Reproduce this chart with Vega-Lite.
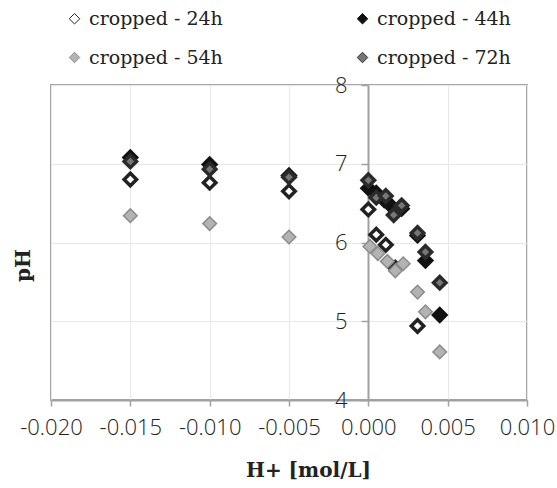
{
  "$schema": "https://vega.github.io/schema/vega-lite/v6.json",
  "autosize": {"type": "none"},
  "padding": {"left": 51, "top": 85, "right": 30, "bottom": 88},
  "width": 476,
  "height": 315,
  "background": "white",
  "config": {
    "view": {"stroke": "#a6a6a6", "strokeWidth": 2},
    "axis": {
      "gridColor": "#e8e8e8",
      "gridWidth": 1,
      "domainColor": "#a0a0a0",
      "domainWidth": 2,
      "tickColor": "#a0a0a0",
      "tickWidth": 1.5,
      "labelFont": "Open Sans",
      "labelFontWeight": 300,
      "labelFontSize": 22,
      "labelColor": "#222222",
      "titleFont": "DejaVu Serif",
      "titleFontWeight": "bold",
      "titleFontSize": 20,
      "titleColor": "#222222"
    }
  },
  "data": {
    "values": [
      {"series": "cropped - 24h", "h": -0.015, "ph": 6.80},
      {"series": "cropped - 24h", "h": -0.010, "ph": 6.76},
      {"series": "cropped - 24h", "h": -0.005, "ph": 6.65},
      {"series": "cropped - 24h", "h": 0.0000, "ph": 6.42},
      {"series": "cropped - 24h", "h": 0.0005, "ph": 6.10},
      {"series": "cropped - 24h", "h": 0.0011, "ph": 5.97},
      {"series": "cropped - 24h", "h": 0.0017, "ph": 5.68},
      {"series": "cropped - 24h", "h": 0.0031, "ph": 4.94},
      {"series": "cropped - 44h", "h": -0.015, "ph": 7.08},
      {"series": "cropped - 44h", "h": -0.010, "ph": 6.99},
      {"series": "cropped - 44h", "h": -0.005, "ph": 6.85},
      {"series": "cropped - 44h", "h": 0.0000, "ph": 6.69},
      {"series": "cropped - 44h", "h": 0.0005, "ph": 6.63},
      {"series": "cropped - 44h", "h": 0.0010, "ph": 6.54},
      {"series": "cropped - 44h", "h": 0.0015, "ph": 6.45},
      {"series": "cropped - 44h", "h": 0.0021, "ph": 6.43},
      {"series": "cropped - 44h", "h": 0.0031, "ph": 6.09},
      {"series": "cropped - 44h", "h": 0.0036, "ph": 5.77},
      {"series": "cropped - 44h", "h": 0.0045, "ph": 5.08},
      {"series": "cropped - 54h", "h": -0.015, "ph": 6.34},
      {"series": "cropped - 54h", "h": -0.010, "ph": 6.24},
      {"series": "cropped - 54h", "h": -0.005, "ph": 6.07},
      {"series": "cropped - 54h", "h": 0.0001, "ph": 5.95},
      {"series": "cropped - 54h", "h": 0.0006, "ph": 5.86},
      {"series": "cropped - 54h", "h": 0.0012, "ph": 5.76},
      {"series": "cropped - 54h", "h": 0.0017, "ph": 5.64},
      {"series": "cropped - 54h", "h": 0.0022, "ph": 5.73},
      {"series": "cropped - 54h", "h": 0.0031, "ph": 5.37},
      {"series": "cropped - 54h", "h": 0.0036, "ph": 5.12},
      {"series": "cropped - 54h", "h": 0.0045, "ph": 4.61},
      {"series": "cropped - 72h", "h": -0.015, "ph": 7.03},
      {"series": "cropped - 72h", "h": -0.010, "ph": 6.93},
      {"series": "cropped - 72h", "h": -0.005, "ph": 6.83},
      {"series": "cropped - 72h", "h": 0.0000, "ph": 6.79},
      {"series": "cropped - 72h", "h": 0.0005, "ph": 6.57},
      {"series": "cropped - 72h", "h": 0.0011, "ph": 6.59},
      {"series": "cropped - 72h", "h": 0.0016, "ph": 6.35},
      {"series": "cropped - 72h", "h": 0.0021, "ph": 6.47},
      {"series": "cropped - 72h", "h": 0.0031, "ph": 6.12},
      {"series": "cropped - 72h", "h": 0.0036, "ph": 5.88},
      {"series": "cropped - 72h", "h": 0.0045, "ph": 5.49}
    ]
  },
  "encoding": {
    "x": {
      "field": "h",
      "type": "quantitative",
      "scale": {"domain": [-0.02, 0.01], "nice": false, "zero": false},
      "axis": {
        "title": "H+ [mol/L]",
        "values": [-0.02, -0.015, -0.01, -0.005, 0, 0.005, 0.01],
        "labelExpr": "replace(format(datum.value, '.3f'), '\u2212', '-')",
        "labelFlush": false,
        "tickSize": 6,
        "labelPadding": 11,
        "titleX": 257,
        "titleY": 70,
        "titleBaseline": "middle",
        "titleAlign": "center",
        "titleAnchor": null
      }
    },
    "y": {
      "field": "ph",
      "type": "quantitative",
      "scale": {"domain": [4, 8], "nice": false, "zero": false},
      "axis": {
        "title": "pH",
        "values": [4, 5, 6, 7, 8],
        "offset": -317,
        "tickSize": 7,
        "labelPadding": 14,
        "titleX": -345,
        "titleY": 180,
        "titleAngle": -90,
        "titleBaseline": "middle",
        "titleAlign": "center",
        "titleAnchor": null
      }
    },
    "fill": {
      "field": "series",
      "type": "nominal",
      "scale": {
        "domain": ["cropped - 24h", "cropped - 54h", "cropped - 44h", "cropped - 72h"],
        "range": ["#ffffff", "#b3b3b3", "#111111", "#777777"]
      },
      "legend": {
        "title": null,
        "orient": "none",
        "legendX": 14,
        "legendY": -76,
        "columns": 2,
        "columnPadding": 130,
        "rowPadding": 19,
        "symbolType": "diamond",
        "symbolSize": 110,
        "symbolStrokeWidth": 1,
        "labelFont": "DejaVu Serif",
        "labelFontSize": 19,
        "labelColor": "#222222",
        "labelOffset": 5,
        "labelLimit": 300
      }
    },
    "stroke": {
      "field": "series",
      "type": "nominal",
      "scale": {
        "domain": ["cropped - 24h", "cropped - 54h", "cropped - 44h", "cropped - 72h"],
        "range": ["#222222", "#8c8c8c", "#111111", "#2a2a2a"]
      }
    }
  },
  "layer": [
    {
      "transform": [{"filter": "datum.series == 'cropped - 24h' || datum.series == 'cropped - 44h'"}],
      "mark": {"type": "point", "shape": "diamond", "size": 155, "strokeWidth": 3.5, "opacity": 1, "filled": false}
    },
    {
      "transform": [{"filter": "datum.series == 'cropped - 54h'"}],
      "mark": {"type": "point", "shape": "diamond", "size": 185, "strokeWidth": 1.5, "opacity": 1, "filled": false}
    },
    {
      "transform": [{"filter": "datum.series == 'cropped - 72h'"}],
      "mark": {"type": "point", "shape": "diamond", "size": 155, "strokeWidth": 3.5, "opacity": 1, "filled": false}
    }
  ]
}
